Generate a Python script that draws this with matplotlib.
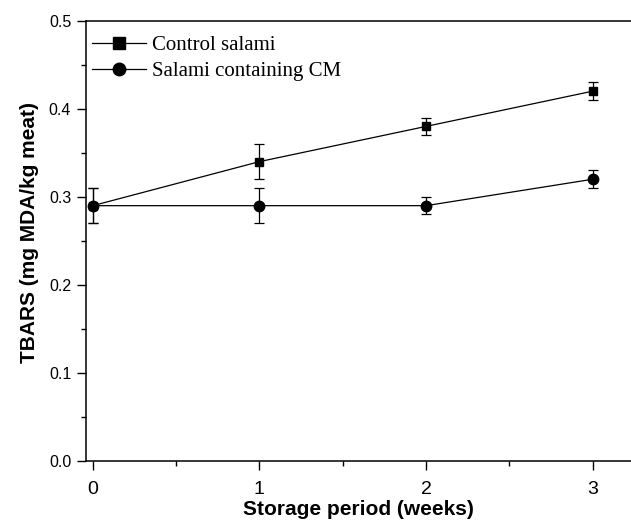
import numpy as np
import matplotlib.pyplot as plt
from matplotlib.ticker import MultipleLocator
from matplotlib.lines import Line2D

# storage weeks
weeks = [0, 1, 2, 3]
# TBARS values (mg MDA/kg meat)
control = [0.29, 0.34, 0.38, 0.42]
control_err = [0.02, 0.02, 0.01, 0.01]
cm = [0.29, 0.29, 0.29, 0.32]
cm_err = [0.02, 0.02, 0.01, 0.01]
labels = ['Control salami', 'Salami containing CM']

plt.rcParams['font.family'] = ['Liberation Sans', 'DejaVu Sans']

fig = plt.figure(figsize=(6.31, 5.24), dpi=100)
ax = fig.add_axes([0.136, 0.120, 0.864, 0.8405])

ax.errorbar(weeks, control, yerr=control_err, color='black', lw=0.9,
            marker='s', markersize=6.2, capsize=3.3, elinewidth=0.9,
            capthick=0.9)
ax.errorbar(weeks, cm, yerr=cm_err, color='black', lw=0.9,
            marker='o', markersize=7.5, capsize=3.3, elinewidth=0.9,
            capthick=0.9)

ax.set_xlim(-0.042, 3.23)
ax.set_ylim(0, 0.5)
ax.xaxis.set_major_locator(MultipleLocator(1))
ax.xaxis.set_minor_locator(MultipleLocator(0.5))
ax.yaxis.set_minor_locator(MultipleLocator(0.05))
ax.set_yticks([0.0, 0.1, 0.2, 0.3, 0.4, 0.5])
ax.set_yticklabels(['0.0', '0.1', '0.2', '0.3', '0.4', '0.5'])

ax.spines['right'].set_visible(False)
for s in ['left', 'bottom', 'top']:
    ax.spines[s].set_linewidth(1.1)
ax.tick_params(which='major', direction='out', length=6.5, width=1)
ax.tick_params(which='minor', direction='out', length=3.5, width=1)
ax.tick_params(axis='y', labelsize=11.5, pad=4)
ax.tick_params(axis='x', labelsize=14, pad=8)
ax.tick_params(axis='x', which='both', top=False)

ax.set_xlabel('Storage period (weeks)', fontsize=15, fontweight='bold', labelpad=1)
ax.set_ylabel('TBARS (mg MDA/kg meat)', fontsize=15, fontweight='bold')
ax.yaxis.set_label_coords(-0.085, 0.52)

handles = [Line2D([], [], color='black', lw=0.9, marker='s', markersize=8),
           Line2D([], [], color='black', lw=0.9, marker='o', markersize=9)]
ax.legend(handles, labels, loc='upper left', bbox_to_anchor=(0.0, 0.98),
          frameon=False, handlelength=2.6,
          prop={'family': 'Liberation Serif', 'size': 15},
          borderaxespad=0, borderpad=0.29, labelspacing=0.3, handletextpad=0.3)

fig.savefig('out.png', dpi=100)
